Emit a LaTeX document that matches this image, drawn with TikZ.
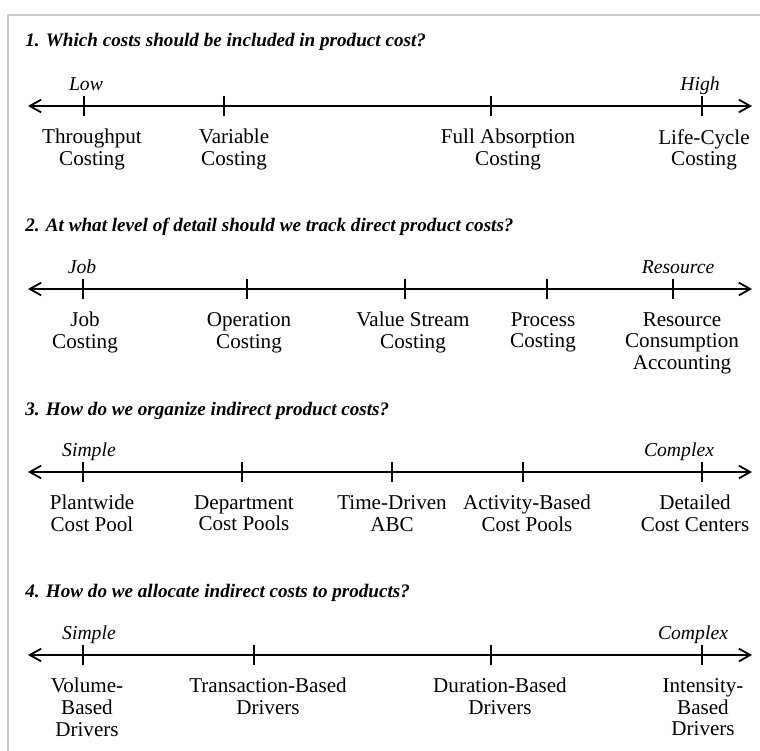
\documentclass[tikz,border=0pt]{standalone}
\usepackage{fontspec}
\setmainfont{Liberation Serif}
\usepackage{tikz}
\usetikzlibrary{arrows.meta}
\tikzset{
    costhead/.style={anchor=base west, inner sep=0pt, font=\bfseries\itshape\fontsize{13.6}{15}\selectfont},
    costend/.style={anchor=base, inner sep=0pt, font=\itshape\fontsize{14}{15}\selectfont},
    costlabel/.style={anchor=north, align=center, inner sep=0pt, font=\fontsize{15}{15.5}\selectfont},
    costaxis/.style={{Straight Barb[length=8pt,width=9pt]}-{Straight Barb[length=8pt,width=9pt]}, line width=1.3pt},
    costtick/.style={line width=1.1pt},
    costframe/.style={draw=gray!40, line width=1.4pt}
}

\begin{document}
\begin{tikzpicture}[x=0.025cm, y=-0.025cm]
        \useasboundingbox (0,0) rectangle (760,750);
        \draw[costframe] (8,752) -- (8,15) -- (762,15);

        % 1. product cost
        \node[costhead] (q1) at (25,46) {1. Which costs should be included in product cost?};
        \coordinate (ax1w) at (28,106);
        \coordinate (ax1e) at (752,106);
        \draw[costaxis] (ax1w) -- (ax1e);
        \foreach \tx in {84,224,491,702} \draw[costtick] (\tx,96) -- (\tx,116);
        \node[costend] (low1) at (86,90) {Low};
        \node[costend] (high1) at (700,90) {High};
        \node[costlabel] (tput) at (92,129) {Throughput\\Costing};
        \node[costlabel] (varc) at (234,129) {Variable\\Costing};
        \node[costlabel] (fabs) at (508,129) {Full Absorption\\Costing};
        \node[costlabel] (lcyc) at (704,129) {Life-Cycle\\Costing};

        % 2. direct costs
        \node[costhead] (q2) at (25,231) {2. At what level of detail should we track direct product costs?};
        \coordinate (ax2w) at (28,289);
        \coordinate (ax2e) at (752,289);
        \draw[costaxis] (ax2w) -- (ax2e);
        \foreach \tx in {83,247,405,547,673} \draw[costtick] (\tx,279) -- (\tx,299);
        \node[costend] (job2) at (82,273) {Job};
        \node[costend] (res2) at (678,273) {Resource};
        \node[costlabel] (jobc) at (85,312) {Job\\Costing};
        \node[costlabel] (opc) at (249,312) {Operation\\Costing};
        \node[costlabel] (vsc) at (413,312) {Value Stream\\Costing};
        \node[costlabel] (proc) at (543,312) {Process\\Costing};
        \node[costlabel] (rca) at (682,312) {Resource\\Consumption\\Accounting};

        % 3. indirect costs
        \node[costhead] (q3) at (25,415) {3. How do we organize indirect product costs?};
        \coordinate (ax3w) at (28,472);
        \coordinate (ax3e) at (752,472);
        \draw[costaxis] (ax3w) -- (ax3e);
        \foreach \tx in {83,242,392,523,702} \draw[costtick] (\tx,462) -- (\tx,482);
        \node[costend] (simp3) at (89,456) {Simple};
        \node[costend] (comp3) at (679,456) {Complex};
        \node[costlabel] (pwide) at (92,495) {Plantwide\\Cost Pool};
        \node[costlabel] (dept) at (244,495) {Department\\Cost Pools};
        \node[costlabel] (tdabc) at (392,495) {Time-Driven\\ABC};
        \node[costlabel] (abpool) at (527,495) {Activity-Based\\Cost Pools};
        \node[costlabel] (detc) at (695,495) {Detailed\\Cost Centers};

        % 4. allocation
        \node[costhead] (q4) at (25,597) {4. How do we allocate indirect costs to products?};
        \coordinate (ax4w) at (28,655);
        \coordinate (ax4e) at (752,655);
        \draw[costaxis] (ax4w) -- (ax4e);
        \foreach \tx in {83,254,491,702} \draw[costtick] (\tx,645) -- (\tx,665);
        \node[costend] (simp4) at (89,639) {Simple};
        \node[costend] (comp4) at (693,639) {Complex};
        \node[costlabel] (vold) at (87,678) {Volume-\\Based\\Drivers};
        \node[costlabel] (trand) at (268,678) {Transaction-Based\\Drivers};
        \node[costlabel] (durd) at (500,678) {Duration-Based\\Drivers};
        \node[costlabel] (intd) at (703,678) {Intensity-\\Based\\Drivers};
    \end{tikzpicture}
\end{document}
